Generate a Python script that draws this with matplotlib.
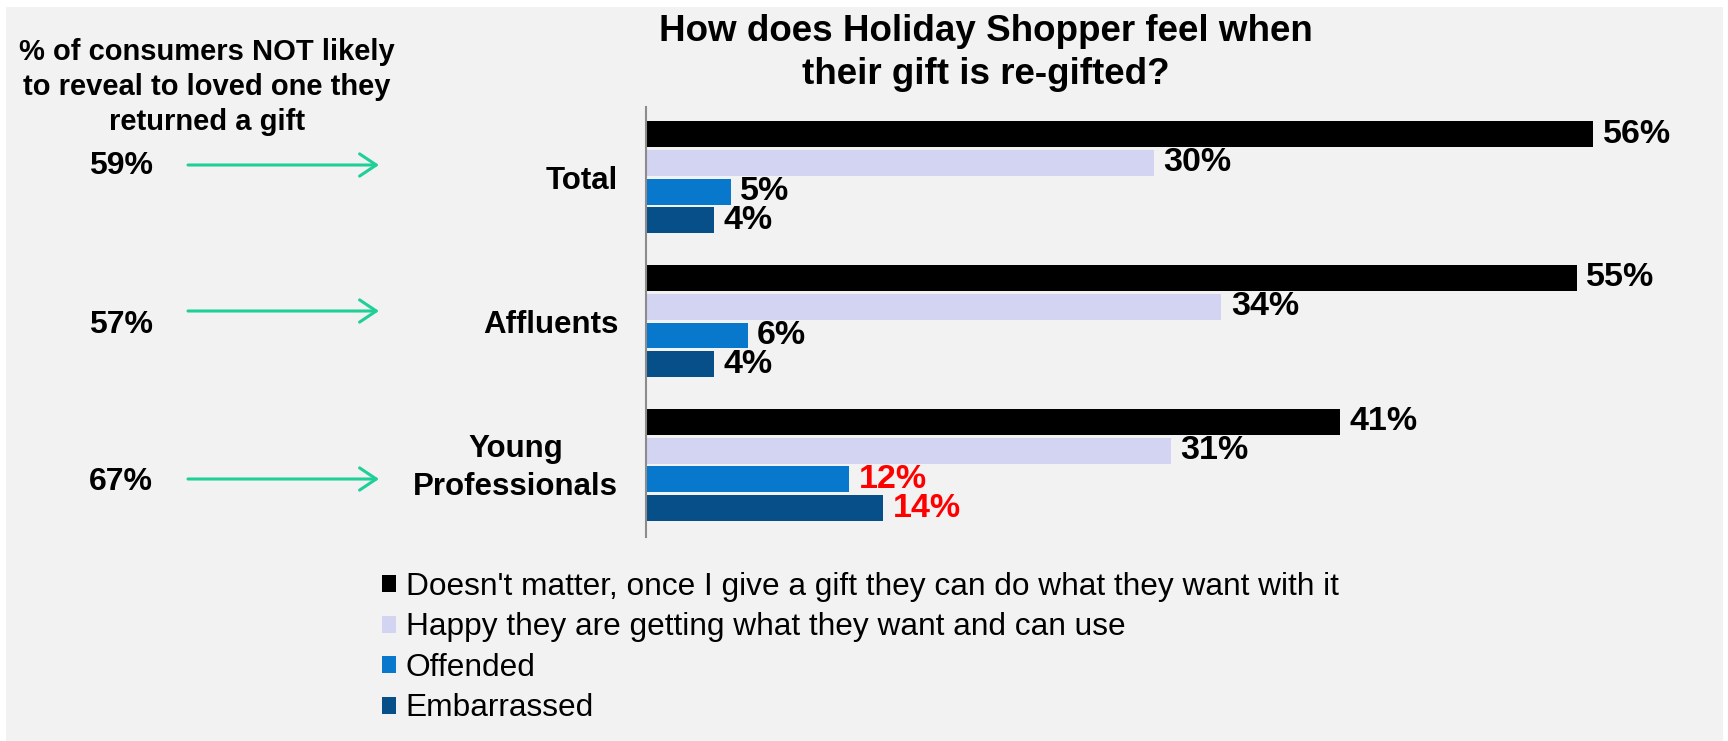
import numpy as np
import matplotlib.pyplot as plt
import matplotlib.transforms as mtransforms
from matplotlib.patches import Rectangle

plt.rcParams['font.family'] = ['Liberation Sans', 'DejaVu Sans']

# survey answers, % of respondents per segment
groups = ['Total', 'Affluents', 'Young\nProfessionals']
series_names = ["Doesn't matter, once I give a gift they can do what they want with it",
                'Happy they are getting what they want and can use',
                'Offended',
                'Embarrassed']
doesnt_matter = [56, 55, 41]
happy = [30, 34, 31]
offended = [5, 6, 12]
embarrassed = [4, 4, 14]
not_reveal = [59, 57, 67]  # % NOT likely to reveal they returned a gift

colors = ['#000000', '#d3d3f2', '#0878cc', '#074f88']
bg = '#f2f2f2'

W, H = 1728, 741
fig = plt.figure(figsize=(W / 100, H / 100), dpi=100, facecolor='white')
fig.patches.append(Rectangle((6 / W, 0), (1723 - 6) / W, (H - 7) / H,
                             transform=fig.transFigure, facecolor=bg,
                             edgecolor='none', zorder=-10))

ax = fig.add_axes([646 / W, 1 - 537 / H, 1049 / W, 430 / H])
ax.set_facecolor(bg)

y = np.arange(len(groups)) * 5
all_series = [doesnt_matter, happy, offended, embarrassed]
for k, vals in enumerate(all_series):
    bars = ax.barh(y + k, vals, height=0.9, color=colors[k], label=series_names[k])
    texts = ax.bar_label(bars, labels=[f'{v}%' for v in vals], padding=7,
                         fontsize=24.5, fontweight='bold')
    # highlight the young professionals' negative reactions
    if k >= 2:
        texts[2].set_color('#ff0000')

ax.set_xlim(0, 62)
ax.set_ylim(14.0, -0.94)
ax.set_xticks([])
ax.set_yticks(y + 1.5, groups, fontsize=22.5, fontweight='bold')
ax.tick_params(axis='y', length=0, pad=20)
for t in ax.get_yticklabels():
    t.set_multialignment('center')
    t.set_linespacing(1.32)
# nudge the two-line label up a little
two_line = ax.get_yticklabels()[2]
two_line.set_transform(two_line.get_transform() +
                       mtransforms.ScaledTranslation(0, 3 / 72, fig.dpi_scale_trans))
for s in ['top', 'right', 'bottom']:
    ax.spines[s].set_visible(False)
ax.spines['left'].set_color('#8c8c8c')
ax.spines['left'].set_linewidth(1.5)

handles, labels = ax.get_legend_handles_labels()
fig.legend(handles, labels, loc='upper left', bbox_to_anchor=(382 / W, 1 - 572 / H),
           frameon=False, fontsize=22.8, handlelength=0.45, handleheight=0.45,
           handletextpad=0.3, labelspacing=0.33, borderpad=0, borderaxespad=0)

fig.text(986 / W, 1 - 53 / H, 'How does Holiday Shopper feel when\ntheir gift is re-gifted?',
         ha='center', va='center', fontsize=26.5, fontweight='bold', linespacing=1.28)

fig.text(207 / W, 1 - 87 / H,
         '% of consumers NOT likely\nto reveal to loved one they\nreturned a gift',
         ha='center', va='center', fontsize=21, fontweight='bold', linespacing=1.3)

pct_y = [166, 325, 482]
arrow_y = [165, 311, 479]
for v, ty, ay in zip(not_reveal, pct_y, arrow_y):
    fig.text(121 / W, 1 - ty / H, f'{v}%', ha='center', va='center',
             fontsize=23, fontweight='bold')
    ax.annotate('', xy=(379, H - ay), xytext=(188, H - ay), xycoords='figure pixels',
                arrowprops=dict(arrowstyle='->,head_length=0.6,head_width=0.4',
                                color='#1fcf98', lw=2.2, mutation_scale=20,
                                shrinkA=0, shrinkB=0))

fig.savefig('out.png', dpi=100, facecolor=fig.get_facecolor())
